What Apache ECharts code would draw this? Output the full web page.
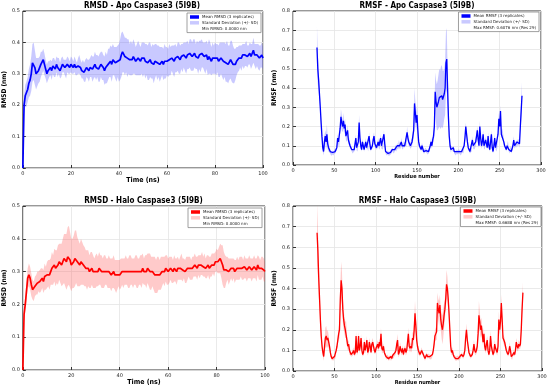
<!DOCTYPE html>
<html><head><meta charset="utf-8">
<script src="https://cdn.jsdelivr.net/npm/echarts@6/dist/echarts.min.js"></script>
<style>html,body{margin:0;padding:0;background:#fff}#c{width:550px;height:390px}</style>
</head><body><div id="c"></div>
<script>
// ---- DATA ----
const RMSD_STEP = 0.5; // ns between samples (0..100 ns)
const FIRST_RES = 29;  // first residue number in RMSF arrays

const apoRmsdMean = [
0,.20,.23,.235,.25,.27,.28,.30,.335,.34,.32,.30,.305,.31,.315,.33,.335,.345,.33,.315,.30,
.31,.315,.32,.31,.325,.32,.315,.33,.32,.325,.31,.32,.33,.325,.32,.315,.33,.325,.32,.33,
.325,.32,.33,.32,.315,.325,.33,.32,.31,.315,.305,.31,.32,.315,.31,.32,.325,.315,.32,.33,
.32,.325,.315,.32,.33,.325,.32,.31,.32,.315,.33,.335,.34,.33,.345,.34,.335,.33,.34,.335,
.345,.36,.37,.365,.355,.36,.35,.355,.345,.35,.345,.355,.35,.34,.345,.35,.345,.34,.35,.345,
.35,.34,.345,.335,.34,.345,.335,.34,.33,.34,.345,.335,.34,.33,.335,.34,.33,.34,.335,.34,
.335,.345,.34,.35,.345,.34,.35,.345,.355,.35,.345,.355,.35,.36,.355,.35,.36,.355,.365,.36,
.355,.36,.365,.355,.36,.35,.36,.355,.365,.36,.355,.35,.36,.345,.355,.35,.34,.35,.345,.35,
.345,.35,.34,.345,.35,.345,.34,.345,.335,.34,.33,.335,.345,.34,.33,.325,.33,.34,.345,.35,
.355,.35,.36,.355,.36,.365,.355,.36,.365,.355,.36,.375,.36,.355,.36,.355,.35,.355,.36,.35];
const apoRmsdSd = [
0,.03,.035,.04,.04,.045,.05,.055,.06,.06,.055,.05,.045,.04,.04,.04,.035,.035,.035,.03,.03,
.03,.025,.025,.03,.025,.03,.025,.025,.03,.025,.025,.03,.025,.02,.025,.03,.025,.025,.02,.025,
.025,.02,.025,.025,.02,.025,.03,.025,.025,.03,.03,.035,.03,.03,.035,.03,.035,.04,.035,.04,
.04,.035,.04,.045,.04,.045,.04,.045,.05,.045,.05,.045,.05,.055,.05,.045,.05,.055,.05,.06,
.065,.07,.065,.06,.06,.055,.06,.055,.05,.055,.05,.055,.05,.045,.05,.055,.05,.045,.05,.055,
.05,.055,.05,.055,.06,.055,.05,.055,.06,.055,.05,.055,.05,.055,.05,.045,.05,.055,.05,.045,
.045,.05,.045,.04,.045,.05,.045,.04,.045,.05,.045,.04,.045,.04,.045,.05,.045,.04,.045,.05,
.045,.05,.045,.04,.045,.05,.045,.05,.045,.04,.045,.05,.045,.05,.055,.05,.045,.05,.045,.05,
.05,.045,.05,.055,.05,.055,.06,.055,.06,.065,.06,.055,.06,.065,.06,.055,.05,.045,.04,.04,
.035,.04,.035,.04,.035,.04,.035,.03,.035,.04,.035,.04,.035,.04,.035,.04,.04,.035,.04,.035];

const haloRmsdMean = [
0,.17,.20,.24,.28,.29,.28,.26,.245,.24,.255,.26,.265,.27,.27,.275,.28,.27,.285,.28,.29,
.295,.29,.30,.31,.305,.32,.31,.315,.32,.33,.325,.32,.33,.34,.335,.33,.345,.35,.335,.32,
.325,.33,.34,.345,.33,.325,.32,.33,.325,.32,.315,.31,.305,.31,.30,.305,.31,.30,.295,.30,
.305,.30,.31,.305,.30,.295,.30,.305,.30,.295,.30,.295,.29,.295,.30,.29,.285,.29,.295,.29,
.295,.30,.295,.30,.305,.30,.295,.30,.305,.30,.295,.30,.305,.30,.295,.30,.305,.30,.31,.30,
.305,.30,.31,.305,.30,.295,.30,.295,.29,.285,.29,.295,.29,.295,.30,.305,.30,.31,.305,.30,
.305,.31,.305,.30,.31,.305,.30,.31,.305,.31,.315,.305,.31,.30,.305,.31,.315,.31,.305,.31,
.315,.32,.315,.31,.32,.315,.32,.325,.315,.32,.31,.315,.32,.31,.315,.32,.325,.32,.33,.335,
.33,.335,.34,.33,.32,.305,.30,.305,.31,.30,.305,.31,.305,.31,.30,.305,.31,.305,.31,.315,
.31,.305,.315,.31,.305,.31,.315,.31,.305,.31,.315,.31,.305,.32,.31,.305,.31,.315,.305,.30];
const haloRmsdSd = [
0,.02,.025,.03,.03,.035,.035,.035,.03,.03,.03,.03,.035,.03,.035,.035,.03,.035,.04,.035,.04,
.04,.045,.04,.05,.045,.05,.055,.05,.06,.055,.06,.065,.07,.075,.08,.085,.09,.09,.085,.08,
.075,.08,.085,.08,.075,.07,.065,.07,.065,.06,.06,.055,.06,.055,.05,.055,.05,.05,.045,.05,
.05,.045,.05,.045,.05,.045,.05,.045,.04,.045,.05,.045,.05,.045,.05,.045,.05,.045,.04,.045,
.045,.04,.045,.04,.045,.04,.045,.05,.045,.04,.045,.04,.045,.05,.045,.04,.045,.05,.045,.04,
.045,.05,.045,.05,.055,.05,.045,.05,.055,.05,.055,.05,.045,.05,.045,.04,.045,.04,.045,.04,
.04,.035,.04,.035,.04,.035,.04,.035,.03,.035,.04,.035,.03,.035,.04,.035,.03,.035,.03,.035,
.03,.035,.03,.035,.03,.035,.03,.035,.03,.035,.03,.035,.03,.035,.03,.035,.03,.035,.03,.035,
.035,.04,.045,.05,.06,.055,.05,.04,.035,.04,.035,.03,.035,.03,.035,.03,.035,.03,.035,.03,
.035,.03,.035,.03,.035,.03,.035,.03,.035,.03,.035,.03,.035,.03,.035,.03,.035,.03,.035,.03];

const apoRmsfMean = [
.61,.5,.44,.37,.3,.22,.15,.09,.07,.12,
.15,.12,.16,.11,.09,.08,.07,.06,.06,.065,
.06,.07,.07,.08,.09,.14,.12,.11,.19,.25,
.22,.2,.23,.19,.21,.15,.14,.18,.13,.12,
.1,.09,.08,.07,.075,.08,.09,.14,.09,.08,
.12,.22,.14,.1,.08,.12,.1,.08,.1,.12,
.09,.1,.08,.15,.11,.08,.09,.1,.13,.15,
.11,.1,.09,.1,.12,.1,.09,.14,.1,.09,
.1,.16,.11,.07,.06,.065,.06,.06,.06,.065,
.07,.08,.075,.07,.08,.09,.08,.1,.09,.11,
.1,.095,.12,.1,.09,.11,.1,.12,.11,.17,
.14,.12,.11,.1,.11,.12,.15,.18,.32,.27,
.22,.26,.18,.12,.1,.09,.08,.1,.09,.07,
.07,.08,.075,.07,.065,.07,.08,.1,.12,.1,
.13,.15,.2,.38,.33,.3,.31,.33,.35,.34,
.35,.36,.34,.35,.37,.4,.53,.55,.4,.25,
.15,.1,.08,.09,.08,.09,.07,.065,.06,.07,
.065,.07,.07,.065,.06,.07,.075,.07,.1,.14,
.2,.16,.12,.09,.08,.07,.075,.08,.13,.1,
.09,.1,.12,.15,.18,.13,.1,.2,.14,.1,
.12,.16,.1,.09,.13,.11,.09,.15,.1,.08,
.12,.16,.09,.07,.1,.14,.09,.08,.1,.16,
.24,.2,.28,.16,.17,.15,.12,.1,.09,.08,
.1,.11,.08,.07,.09,.07,.08,.1,.13,.1,
.11,.1,.12,.11,.12,.11,.2,.28,.36];
const apoRmsfSd = [
.11,.08,.06,.04,.03,.03,.02,.02,.02,.03,
.03,.04,.05,.03,.02,.015,.01,.01,.01,.01,
.01,.01,.01,.01,.015,.02,.02,.02,.03,.04,
.04,.03,.04,.03,.03,.02,.02,.03,.02,.02,
.015,.01,.01,.01,.01,.01,.015,.02,.015,.01,
.02,.04,.02,.015,.01,.015,.015,.01,.015,.02,
.01,.015,.01,.02,.015,.01,.01,.015,.02,.02,
.015,.015,.01,.015,.02,.015,.01,.02,.015,.01,
.015,.02,.015,.01,.01,.01,.01,.01,.01,.01,
.01,.01,.01,.01,.01,.015,.01,.015,.01,.02,
.015,.01,.02,.015,.01,.015,.01,.02,.015,.03,
.02,.02,.015,.015,.02,.02,.03,.04,.08,.06,
.04,.05,.03,.02,.015,.01,.01,.015,.01,.01,
.01,.01,.01,.01,.01,.01,.01,.015,.02,.015,
.02,.03,.05,.1,.11,.12,.13,.14,.15,.15,
.16,.16,.15,.14,.13,.14,.16,.16,.1,.05,
.03,.02,.015,.01,.01,.01,.01,.01,.01,.01,
.01,.01,.01,.01,.01,.01,.01,.01,.015,.02,
.02,.02,.015,.01,.01,.01,.01,.01,.02,.015,
.01,.015,.02,.02,.02,.02,.015,.03,.02,.015,
.02,.02,.015,.01,.02,.015,.01,.02,.015,.01,
.015,.02,.015,.01,.015,.02,.01,.01,.015,.02,
.03,.02,.03,.02,.02,.02,.015,.01,.01,.01,
.01,.015,.01,.01,.01,.01,.01,.015,.02,.015,
.015,.01,.015,.015,.015,.02,.03,.05,.07];

const haloRmsfMean = [
.67,.58,.45,.35,.25,.17,.12,.09,.07,.12,
.16,.17,.15,.16,.14,.12,.09,.07,.06,.065,
.06,.07,.07,.1,.12,.15,.18,.2,.35,.44,
.4,.3,.25,.22,.2,.2,.15,.12,.13,.1,
.09,.08,.08,.09,.1,.08,.09,.17,.09,.1,
.17,.1,.12,.16,.1,.08,.09,.14,.1,.12,
.15,.09,.1,.14,.12,.09,.13,.14,.12,.1,
.09,.11,.12,.13,.11,.14,.12,.18,.11,.1,
.12,.09,.08,.07,.065,.07,.06,.065,.06,.07,
.06,.075,.07,.08,.09,.1,.13,.15,.08,.09,
.12,.1,.09,.11,.08,.1,.11,.09,.1,.14,
.18,.12,.11,.12,.11,.16,.15,.2,.28,.22,
.15,.12,.1,.09,.08,.09,.1,.09,.08,.07,
.06,.07,.08,.07,.075,.07,.07,.065,.07,.08,
.1,.13,.17,.18,.19,.33,.3,.28,.32,.25,
.22,.2,.23,.27,.3,.35,.42,.4,.35,.28,
.2,.12,.09,.1,.08,.07,.065,.06,.06,.065,
.06,.065,.07,.07,.08,.075,.07,.08,.1,.16,
.2,.15,.12,.09,.08,.07,.075,.08,.1,.13,
.1,.09,.1,.12,.18,.27,.24,.2,.22,.18,
.14,.18,.12,.1,.13,.15,.1,.08,.1,.17,
.12,.1,.08,.09,.13,.11,.1,.09,.12,.25,
.2,.24,.33,.25,.16,.15,.14,.12,.1,.09,
.08,.09,.12,.1,.07,.065,.08,.09,.08,.1,
.14,.12,.11,.13,.12,.13,.2,.3,.38];
const haloRmsfSd = [
.14,.12,.09,.06,.04,.03,.02,.02,.02,.03,
.05,.05,.04,.04,.03,.02,.015,.01,.01,.01,
.01,.01,.01,.015,.02,.02,.03,.04,.07,.09,
.08,.06,.05,.04,.04,.04,.03,.02,.02,.02,
.015,.01,.01,.015,.015,.01,.015,.02,.015,.015,
.02,.015,.015,.02,.015,.01,.015,.02,.015,.015,
.02,.015,.015,.02,.015,.01,.015,.02,.015,.015,
.01,.015,.015,.02,.015,.02,.015,.03,.02,.015,
.015,.01,.01,.01,.01,.01,.01,.01,.01,.01,
.01,.01,.01,.01,.015,.015,.02,.03,.015,.015,
.02,.015,.015,.015,.01,.015,.015,.015,.015,.02,
.03,.02,.02,.02,.02,.03,.03,.04,.06,.04,
.03,.02,.02,.015,.01,.01,.015,.01,.01,.01,
.01,.01,.01,.01,.01,.01,.01,.01,.01,.01,
.015,.02,.03,.03,.04,.05,.05,.06,.05,.05,
.06,.07,.07,.06,.05,.05,.07,.06,.05,.04,
.03,.02,.015,.015,.01,.01,.01,.01,.01,.01,
.01,.01,.01,.01,.01,.01,.01,.015,.015,.02,
.03,.02,.02,.015,.01,.01,.01,.01,.015,.02,
.015,.015,.015,.02,.03,.07,.05,.04,.04,.03,
.02,.03,.02,.015,.02,.02,.015,.01,.015,.025,
.02,.015,.01,.015,.02,.015,.015,.015,.02,.04,
.03,.03,.04,.03,.02,.02,.02,.015,.015,.01,
.01,.015,.02,.015,.01,.01,.01,.015,.01,.015,
.02,.02,.015,.02,.015,.02,.03,.04,.05];

const titles = ['RMSD - Apo Caspase3 (5I9B)', 'RMSF - Apo Caspase3 (5I9B)',
                'RMSD - Halo Caspase3 (5I9B)', 'RMSF - Halo Caspase3 (5I9B)'];
const legendNames = [
  ['Mean RMSD (3 replicates)', 'Standard Deviation (+/- SD)', 'Min RMSD: 0.0000 nm'],
  ['Mean RMSF (3 replicates)', 'Standard Deviation (+/- SD)', 'Max RMSF: 0.6076 nm (Res 29)'],
  ['Mean RMSD (3 replicates)', 'Standard Deviation (+/- SD)', 'Min RMSD: 0.0000 nm'],
  ['Mean RMSF (3 replicates)', 'Standard Deviation (+/- SD)', 'Max RMSF: 0.6688 nm (Res 29)']];

// ---- CHART ----
const FONT = "'DejaVu Sans Condensed', 'DejaVu Sans'";
const BLUE = '#0000ff', RED = '#ff0000';
const BLUE_FILL = 'rgba(90,90,255,0.33)', RED_FILL = 'rgba(255,90,90,0.32)';

const rmsdX = apoRmsdMean.map((_, i) => i * RMSD_STEP);
const rmsfX = apoRmsfMean.map((_, i) => i + FIRST_RES);

const grids = [
  {left: 21, top: 11, width: 242, height: 157},
  {left: 293, top: 11, width: 248, height: 154},
  {left: 22, top: 206, width: 243, height: 164},
  {left: 293, top: 206, width: 249, height: 165}];
grids.forEach(g => { g.show = true; g.borderColor = '#333'; g.borderWidth = 1; g.backgroundColor = 'transparent'; });

const tickLabel = {fontSize: 5, color: '#222', fontFamily: 'DejaVu Sans', margin: 3};
const split = {show: true, lineStyle: {color: '#e4e4e4', width: 0.8}};
const nameStyle = {fontFamily: FONT, fontWeight: 'bold', color: '#000'};

const xCfg = [
  {max: 100, interval: 20, name: 'Time (ns)', fs: 7, gap: 8},
  {max: 300, interval: 50, name: 'Residue number', fs: 5.5, gap: 8},
  {max: 100, interval: 20, name: 'Time (ns)', fs: 7, gap: 7},
  {max: 300, interval: 50, name: 'Residue number', fs: 5.5, gap: 9}];
const yCfg = [
  {max: 0.5, name: 'RMSD (nm)', gap: 10},
  {max: 0.8, name: 'RMSF (nm)', gap: 10},
  {max: 0.5, name: 'RMSD (nm)', gap: 11},
  {max: 0.8, name: 'RMSF (nm)', gap: 10}];

const xAxis = xCfg.map((c, i) => ({
  type: 'value', gridIndex: i, min: 0, max: c.max, interval: c.interval,
  name: c.name, nameLocation: 'middle', nameGap: c.gap,
  nameTextStyle: Object.assign({fontSize: c.fs}, nameStyle),
  axisLine: {show: false}, axisTick: {show: true, inside: true, length: 3, lineStyle: {color: '#333'}},
  axisLabel: tickLabel, splitLine: split}));
const yAxis = yCfg.map((c, i) => ({
  type: 'value', gridIndex: i, min: 0, max: c.max, interval: 0.1,
  name: c.name, nameLocation: 'middle', nameGap: c.gap,
  nameTextStyle: Object.assign({fontSize: 6.5}, nameStyle),
  axisLine: {show: false}, axisTick: {show: true, inside: true, length: 3, lineStyle: {color: '#333'}},
  axisLabel: Object.assign({formatter: v => v.toFixed(1)}, tickLabel), splitLine: split}));

const panels = [
  {xs: rmsdX, mean: apoRmsdMean, sd: apoRmsdSd, color: BLUE, fill: BLUE_FILL, w: 1.7},
  {xs: rmsfX, mean: apoRmsfMean, sd: apoRmsfSd, color: BLUE, fill: BLUE_FILL, w: 1.3},
  {xs: rmsdX, mean: haloRmsdMean, sd: haloRmsdSd, color: RED, fill: RED_FILL, w: 1.7},
  {xs: rmsfX, mean: haloRmsfMean, sd: haloRmsfSd, color: RED, fill: RED_FILL, w: 1.3}];

const series = [];
panels.forEach((p, i) => {
  const names = legendNames[i];
  const bandData = p.xs.map((x, k) => [x, p.mean[k] - p.sd[k], p.mean[k] + p.sd[k]]);
  series.push({
    type: 'custom', name: names[1], xAxisIndex: i, yAxisIndex: i, data: bandData,
    encode: {x: 0, y: [1, 2]}, itemStyle: {color: p.fill}, silent: true, clip: true, z: 1,
    renderItem: (params, api) => {
      if (params.dataIndex !== 0) return null;
      const top = bandData.map(d => api.coord([d[0], d[2]]));
      const bot = bandData.map(d => api.coord([d[0], d[1]])).reverse();
      const cs = params.coordSys;
      return {
        type: 'polygon', shape: {points: top.concat(bot)},
        style: {fill: p.fill, stroke: null},
        clipPath: {type: 'rect', shape: {x: cs.x, y: cs.y, width: cs.width, height: cs.height}}
      };
    }
  });
  series.push({type: 'line', name: names[0], xAxisIndex: i, yAxisIndex: i,
    data: p.xs.map((x, k) => [x, p.mean[k]]), symbol: 'none', sampling: null,
    lineStyle: {color: p.color, width: p.w}, itemStyle: {color: p.color}, z: 3});
  series.push({type: 'line', name: names[2], xAxisIndex: i, yAxisIndex: i, data: [],
    symbol: 'none', lineStyle: {opacity: 0}, itemStyle: {color: 'rgba(0,0,0,0)'}});
});

const legendPos = [
  {left: 187, top: 13}, {right: 11, top: 12}, {left: 188, top: 208}, {right: 9, top: 207}];
const legend = legendNames.map((names, i) => Object.assign({
  orient: 'vertical',
  backgroundColor: '#fff', borderColor: '#888', borderWidth: 0.8, padding: [2, 3, 2, 3],
  itemGap: 1.8, itemWidth: 9, itemHeight: 3.5, selectedMode: false,
  textStyle: {fontSize: 4, fontFamily: 'DejaVu Sans', color: '#222', padding: [0, 0, 0, -2]},
  data: [
    {name: names[0], icon: 'rect', itemStyle: {color: panels[i].color}},
    {name: names[1], icon: 'rect', itemStyle: {color: panels[i].fill}},
    {name: names[2], icon: 'rect', itemStyle: {color: 'rgba(0,0,0,0)', borderWidth: 0}}]
}, legendPos[i]));

const title = titles.map((t, i) => ({
  text: t, left: grids[i].left + grids[i].width / 2, top: grids[i].top - 9, textAlign: 'center',
  textStyle: {fontSize: 8, fontWeight: 'bold', fontFamily: FONT, color: '#000'}, padding: 0
}));

const chart = echarts.init(document.getElementById('c'), null, {renderer: 'canvas'});
chart.setOption({animation: false, backgroundColor: '#fff', title, legend, grid: grids, xAxis, yAxis, series});
</script></body></html>
